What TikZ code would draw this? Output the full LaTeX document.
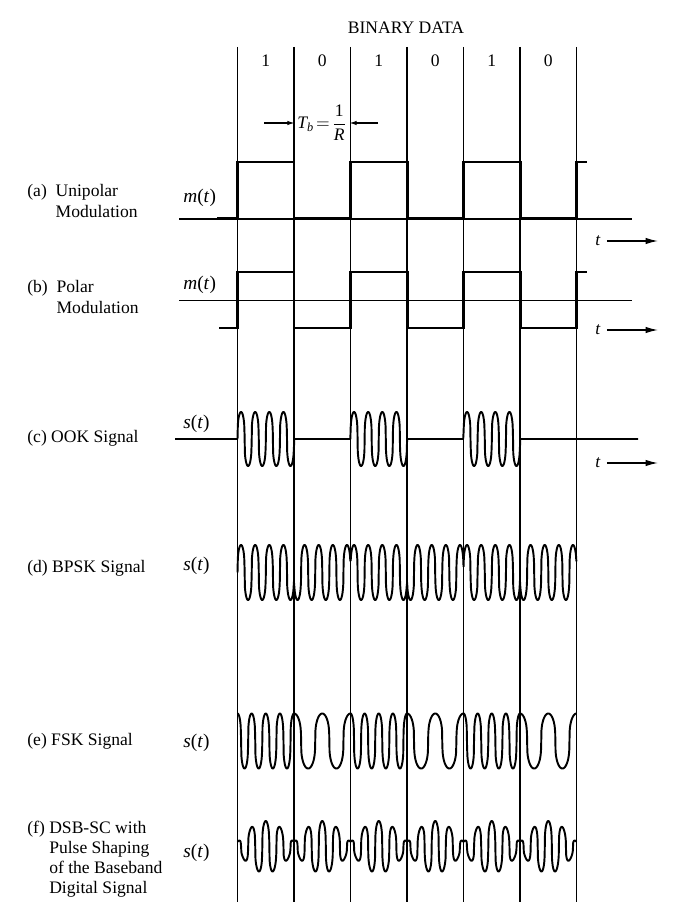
\documentclass[tikz,border=0pt]{standalone}
\usepackage{amsmath}
\usepackage{fontspec}
\setmainfont{Liberation Serif}
\usetikzlibrary{arrows.meta}
\renewcommand{\arraystretch}{0.95}

\begin{document}
\begin{tikzpicture}[x=0.02cm, y=-0.02cm,
    grid/.style={line width=0.6pt, draw=black},
    axis/.style={line width=0.6pt},
    pulse/.style={line width=1.7pt, line join=miter},
    wave/.style={line width=1.1pt, line join=round},
    tarrow/.style={-{Latex[length=7pt,width=3.6pt]}, line width=0.7pt},
    tbarrow/.style={-{Latex[length=4pt,width=2.6pt]}, line width=0.6pt},
    lbl/.style={anchor=base west, inner sep=0pt, align=left},
    sig/.style={anchor=base west, inner sep=0pt, font=\fontsize{11}{13}\selectfont},
    bit/.style={anchor=base, inner sep=0pt},
    declare function={sqw(\t)=sign(\t)*exp(0.33*ln(abs(\t)+0.00001)); bitof(\t)=1-mod(floor(\t),2);}
]
    \useasboundingbox (0,0) rectangle (674,918);

    % Bit boundaries
    \foreach \k in {0,...,6}
        \draw[grid] ({237.5+56.5*\k},47) -- ({237.5+56.5*\k},902);

    % Header
    \node[bit] (title) at (406,34) {BINARY DATA};
    \foreach \k/\b in {0/1,1/0,2/1,3/0,4/1,5/0}
        \node[bit] (bit\k) at ({265.75+56.5*\k},67) {\b};

    % Bit period
    \node[inner sep=1.5pt] (tb) at (322,123) {$\textit{T}_{\textit{b}}\!=\!\dfrac{\text{1}}{\textit{R}}$};
    \coordinate (tbl) at (264,123);
    \coordinate (tbr) at (378,123);
    \draw[tbarrow] (tbl) -- (tb);
    \draw[tbarrow] (tbr) -- (tb);

    % Left labels
    \node[lbl] (laba) at (27,197) {\begin{tabular}[t]{@{}l@{\ \ }l}(a)&Unipolar\\&Modulation\end{tabular}};
    \node[lbl] (labb) at (27,293) {\begin{tabular}[t]{@{}l@{\ \ }l}(b)&Polar\\&Modulation\end{tabular}};
    \node[lbl] (labc) at (27,442) {(c) OOK Signal};
    \node[lbl] (labd) at (27,572) {(d) BPSK Signal};
    \node[lbl] (labe) at (27,745) {(e) FSK Signal};
    \node[lbl] (labf) at (27,833) {\begin{tabular}[t]{@{}l@{\ }l}(f)&DSB-SC with\\&Pulse Shaping\\&of the Baseband\\&Digital Signal\end{tabular}};

    % Signal names
    \node[sig] (ma) at (183,203) {\textit{m}(\textit{t}\/)};
    \node[sig] (mb) at (183,290) {\textit{m}(\textit{t}\/)};
    \node[sig] (sc) at (183,428) {\textit{s}(\textit{t}\/)};
    \node[sig] (sd) at (183,570) {\textit{s}(\textit{t}\/)};
    \node[sig] (se) at (183,747) {\textit{s}(\textit{t}\/)};
    \node[sig] (sf) at (183,857) {\textit{s}(\textit{t}\/)};

    % Time arrows
    \foreach \n/\y in {a/241,b/330,c/463} {
        \node (t\n) at (598,\y) {\textit{t}};
        \coordinate (t\n end) at (658,\y);
        \draw[tarrow] (t\n) -- (t\n end);
    }

    % (a) unipolar
    \draw[axis] (179,219) -- (632,219);
    \draw[pulse] (217,218) -| (237.5,162) -| (294,218) -| (350.5,162) -| (407,218) -| (463.5,162) -| (520,218) -| (576.5,162) -- (587,162);

    % (b) polar
    \draw[axis] (179,300.5) -- (632,300.5);
    \draw[pulse] (219,328) -| (237.5,272) -| (294,328) -| (350.5,272) -| (407,328) -| (463.5,272) -| (520,328) -| (576.5,272) -- (587,272);

    % (c) OOK
    \draw[wave] (175,439) -- plot[domain=0:6, samples=961] ({237.5+56.5*\x}, {439-27*bitof(\x)*sqw(sin(1440*\x))}) -- (638,439);

    % (d) BPSK
    \draw[wave] plot[domain=0:6, samples=961] ({237.5+56.5*\x}, {572.5-27.5*(2*bitof(\x)-1)*sqw(sin(1440*\x))});

    % (e) FSK
    \draw[wave] plot[domain=0:6, samples=961] ({237.5+56.5*\x}, {741-27.5*sqw(cos((720+720*bitof(\x))*(\x-floor(\x))))});

    % (f) DSB-SC, pulse shaped
    \draw[wave] plot[domain=0:6, samples=961] ({237.5+56.5*\x}, {847-26*(0.2+0.8*sin(180*(\x-floor(\x))))*sqw(cos(1440*\x))});
\end{tikzpicture}
\end{document}
